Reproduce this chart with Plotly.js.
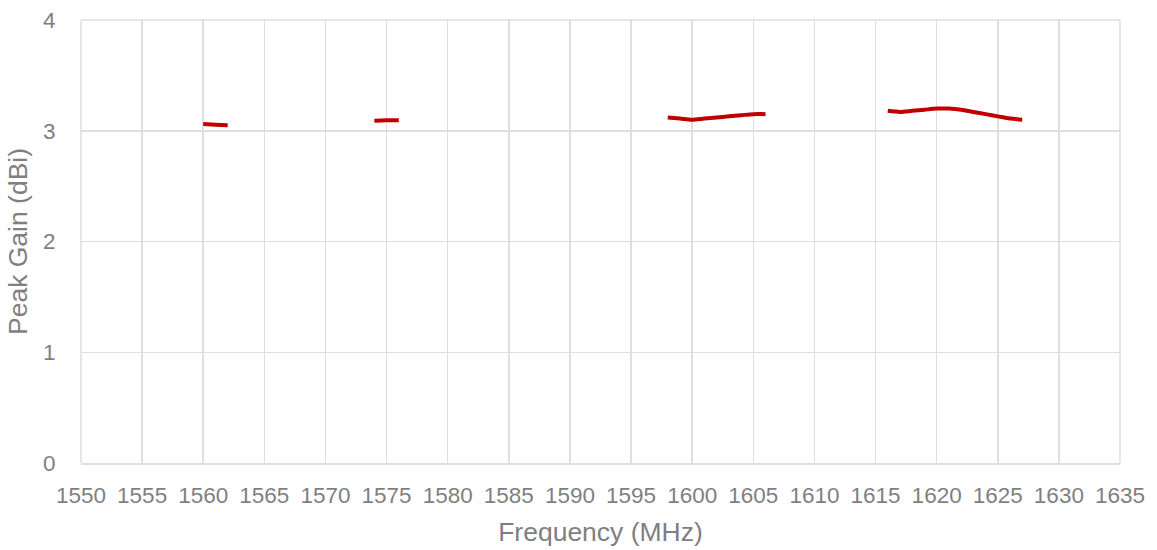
<!DOCTYPE html>
<html>
<head>
<meta charset="utf-8">
<script src="https://cdn.plot.ly/plotly-3.0.1.min.js"></script>
<style>html,body{margin:0;padding:0;background:#fff;}#chart{width:1157px;height:550px;}</style>
</head>
<body>
<div id="chart"></div>
<script>
const band1Freq = [1560, 1561, 1562];
const band1Gain = [3.06, 3.055, 3.05];
const band2Freq = [1574, 1575, 1576];
const band2Gain = [3.09, 3.095, 3.095];
const band3Freq = [1598, 1599, 1600, 1601, 1602, 1603, 1604, 1605, 1606];
const band3Gain = [3.12, 3.11, 3.10, 3.11, 3.12, 3.13, 3.14, 3.15, 3.15];
const band4Freq = [1616, 1617, 1618, 1619, 1620, 1621, 1622, 1623, 1624, 1625, 1626, 1627];
const band4Gain = [3.18, 3.17, 3.18, 3.19, 3.20, 3.20, 3.19, 3.17, 3.15, 3.13, 3.11, 3.10];
const xTicks = [1550,1555,1560,1565,1570,1575,1580,1585,1590,1595,1600,1605,1610,1615,1620,1625,1630,1635];
const yTicks = [0,1,2,3,4];

const bands = [[band1Freq, band1Gain],[band2Freq, band2Gain],[band3Freq, band3Gain],[band4Freq, band4Gain]];
const traces = bands.map(b => ({
  x: b[0], y: b[1], type: 'scatter', mode: 'lines',
  line: {color: '#C00000', width: 4, shape: 'spline', smoothing: 0.8},
  showlegend: false, hoverinfo: 'x+y'
}));

const gray = '#7f7f7f';
const grid = '#dedede';
const layout = {
  width: 1157, height: 550,
  margin: {l: 81, r: 37, t: 20, b: 87},
  paper_bgcolor: '#fff', plot_bgcolor: '#fff',
  font: {family: 'Liberation Sans, Arial, sans-serif', color: gray, size: 22},
  xaxis: {
    range: [1550, 1635], tickvals: xTicks, ticktext: xTicks.map(String),
    showgrid: true, gridcolor: grid, gridwidth: 1.5,
    zeroline: false, showline: true, linecolor: grid, linewidth: 1.5,
    ticks: 'outside', ticklen: 11, tickcolor: 'rgba(0,0,0,0)',
    tickfont: {size: 22.5, color: gray},
    title: {text: 'Frequency (MHz)', font: {size: 26.5, color: gray}, standoff: 16}
  },
  yaxis: {
    range: [0, 4], tickvals: yTicks,
    showgrid: true, gridcolor: grid, gridwidth: 1.5,
    zeroline: false, showline: false,
    ticks: 'outside', ticklen: 20, tickcolor: 'rgba(0,0,0,0)',
    tickfont: {size: 22.5, color: gray},
    title: {text: 'Peak Gain (dBi)', font: {size: 26.5, color: gray}, standoff: 7}
  },
  shapes: [
    {type: 'line', xref: 'paper', yref: 'paper', x0: 0, x1: 0, y0: 0, y1: 1, line: {color: grid, width: 1.5}},
    {type: 'line', xref: 'paper', yref: 'paper', x0: 1, x1: 1, y0: 0, y1: 1, line: {color: grid, width: 1.5}},
    {type: 'line', xref: 'paper', yref: 'paper', x0: 0, x1: 1, y0: 1, y1: 1, line: {color: grid, width: 1.5}}
  ]
};
Plotly.newPlot('chart', traces, layout, {displayModeBar: false, staticPlot: true});
</script>
</body>
</html>
